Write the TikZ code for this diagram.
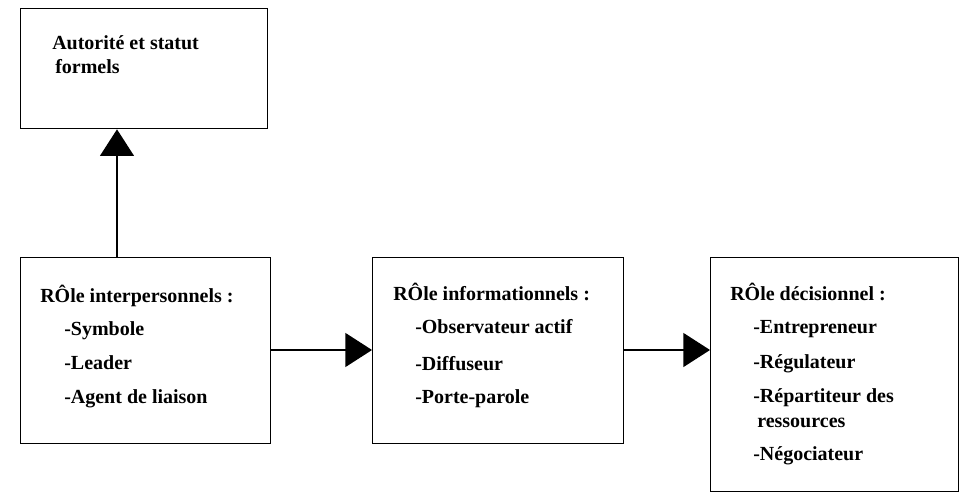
\documentclass[tikz,border=0pt]{standalone}
\usepackage{fontspec}
\setmainfont{Liberation Serif}
\usetikzlibrary{arrows.meta}
\begin{document}
\begin{tikzpicture}[x=0.75pt,y=-0.75pt,
  rolebox/.style={draw,line width=1pt,rectangle,inner sep=0pt,anchor=north west},
  label/.style={anchor=base west,inner sep=0pt,font=\fontsize{15}{17}\selectfont\bfseries},
  link/.style={line width=1pt,-{Triangle[length=20pt,width=25.5pt]}}]
\useasboundingbox (0,0) rectangle (963,495);
% boxes
\node[rolebox,minimum width=185.25pt,minimum height=90pt] (auth) at (20,8) {};
\node[rolebox,minimum width=187.5pt,minimum height=139.5pt] (inter) at (20,257) {};
\node[rolebox,minimum width=188.25pt,minimum height=139.5pt] (info) at (372,257) {};
\node[rolebox,minimum width=186pt,minimum height=175.5pt] (dec) at (710,257) {};
% texts
\node[label] (t0a) at (52,50) {Autorité et statut};
\node[label] (t0b) at (55,74) {formels};
\node[label] (t1) at (40,302) {RÔle interpersonnels :};
\node[label] (t1a) at (64,335) {-Symbole};
\node[label] (t1b) at (64,369) {-Leader};
\node[label] (t1c) at (64,403) {-Agent de liaison};
\node[label] (t2) at (393,300) {RÔle informationnels :};
\node[label] (t2a) at (415,333) {-Observateur actif};
\node[label] (t2b) at (415,370) {-Diffuseur};
\node[label] (t2c) at (415,403) {-Porte-parole};
\node[label] (t3) at (730,300) {RÔle décisionnel :};
\node[label] (t3a) at (753,333) {-Entrepreneur};
\node[label] (t3b) at (753,368) {-Régulateur};
\node[label] (t3c) at (753,402) {-Répartiteur des};
\node[label] (t3d) at (757,427) {ressources};
\node[label] (t3e) at (753,460) {-Négociateur};
% connectors
\draw[link] (inter.north -| 117,0) -- (auth.south -| 117,0);
\draw[link] (inter.east |- 0,350) -- (info.west |- 0,350);
\draw[link] (info.east |- 0,350) -- (dec.west |- 0,350);
\end{tikzpicture}
\end{document}
